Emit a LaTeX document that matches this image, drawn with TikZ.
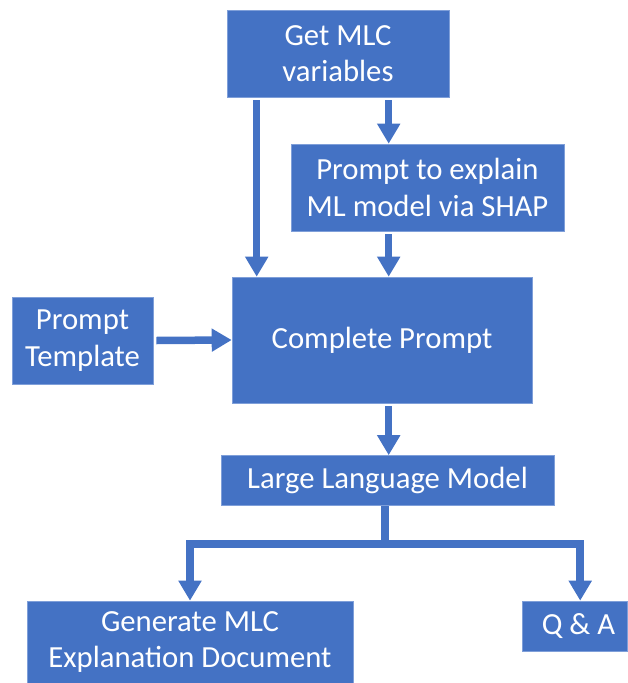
\documentclass[tikz,border=0pt]{standalone}
\usepackage{fontspec}
\setmainfont{Carlito}
\usetikzlibrary{arrows.meta,calc}
\definecolor{boxblue}{HTML}{4472C4}
\definecolor{edgeblue}{HTML}{7F9FD9}
\begin{document}
\begin{tikzpicture}[x=1pt,y=-1pt,
 box/.style={rectangle, fill=boxblue, draw=edgeblue, line width=0.6pt, text=white, align=center, inner sep=0pt, font=\fontsize{30.7}{36.5}\selectfont},
 arr/.style={draw=boxblue, line width=7.5pt, line join=miter, -{Triangle[width=22pt,length=20pt]}}]
\useasboundingbox (0,0) rectangle (627,683);
\node[box, minimum width=222pt, minimum height=87pt] (get) at (338,53.5) {Get MLC\\variables};
\node[box, minimum width=273pt, minimum height=87pt] (shap) at (427.5,187.5) {Prompt to explain\\ML model via SHAP};
\node[box, minimum width=300pt, minimum height=126pt] (cp) at (382,340) {Complete Prompt};
\node[box, minimum width=141pt, minimum height=87pt] (tpl) at (82.5,340.5) {Prompt\\Template};
\node[box, minimum width=333pt, minimum height=50pt] (llm) at (387.5,480.5) {Large Language Model};
\node[box, minimum width=326pt, minimum height=82pt] (gen) at (190,642) {Generate MLC\\Explanation Document};
\node[box, minimum width=105pt, minimum height=50pt] (qa) at (574.5,626) {\hspace*{8pt}Q \& A};
\draw[arr] ($(get.south west)+(30,3)$) -- ($(cp.north west)+(25,0)$);
\draw[arr] ($(get.south west)+(162,3)$) -- ($(shap.north west)+(98,0)$);
\draw[arr] ($(shap.south west)+(98,3)$) -- ($(cp.north west)+(157,0)$);
\draw[arr] ($(tpl.east)+(3,0)$) -- (cp.west);
\draw[arr] ($(cp.south west)+(157,3)$) -- ($(llm.north west)+(168,0)$);
\coordinate (j) at ($(llm.south west)+(164.5,38)$);
\draw[arr, line width=8pt] ($(llm.south west)+(164.5,0)$) -- (j) -| (gen.north);
\draw[arr, line width=8pt] (j) -| ($(qa.north west)+(58.5,0)$);
\end{tikzpicture}
\end{document}
